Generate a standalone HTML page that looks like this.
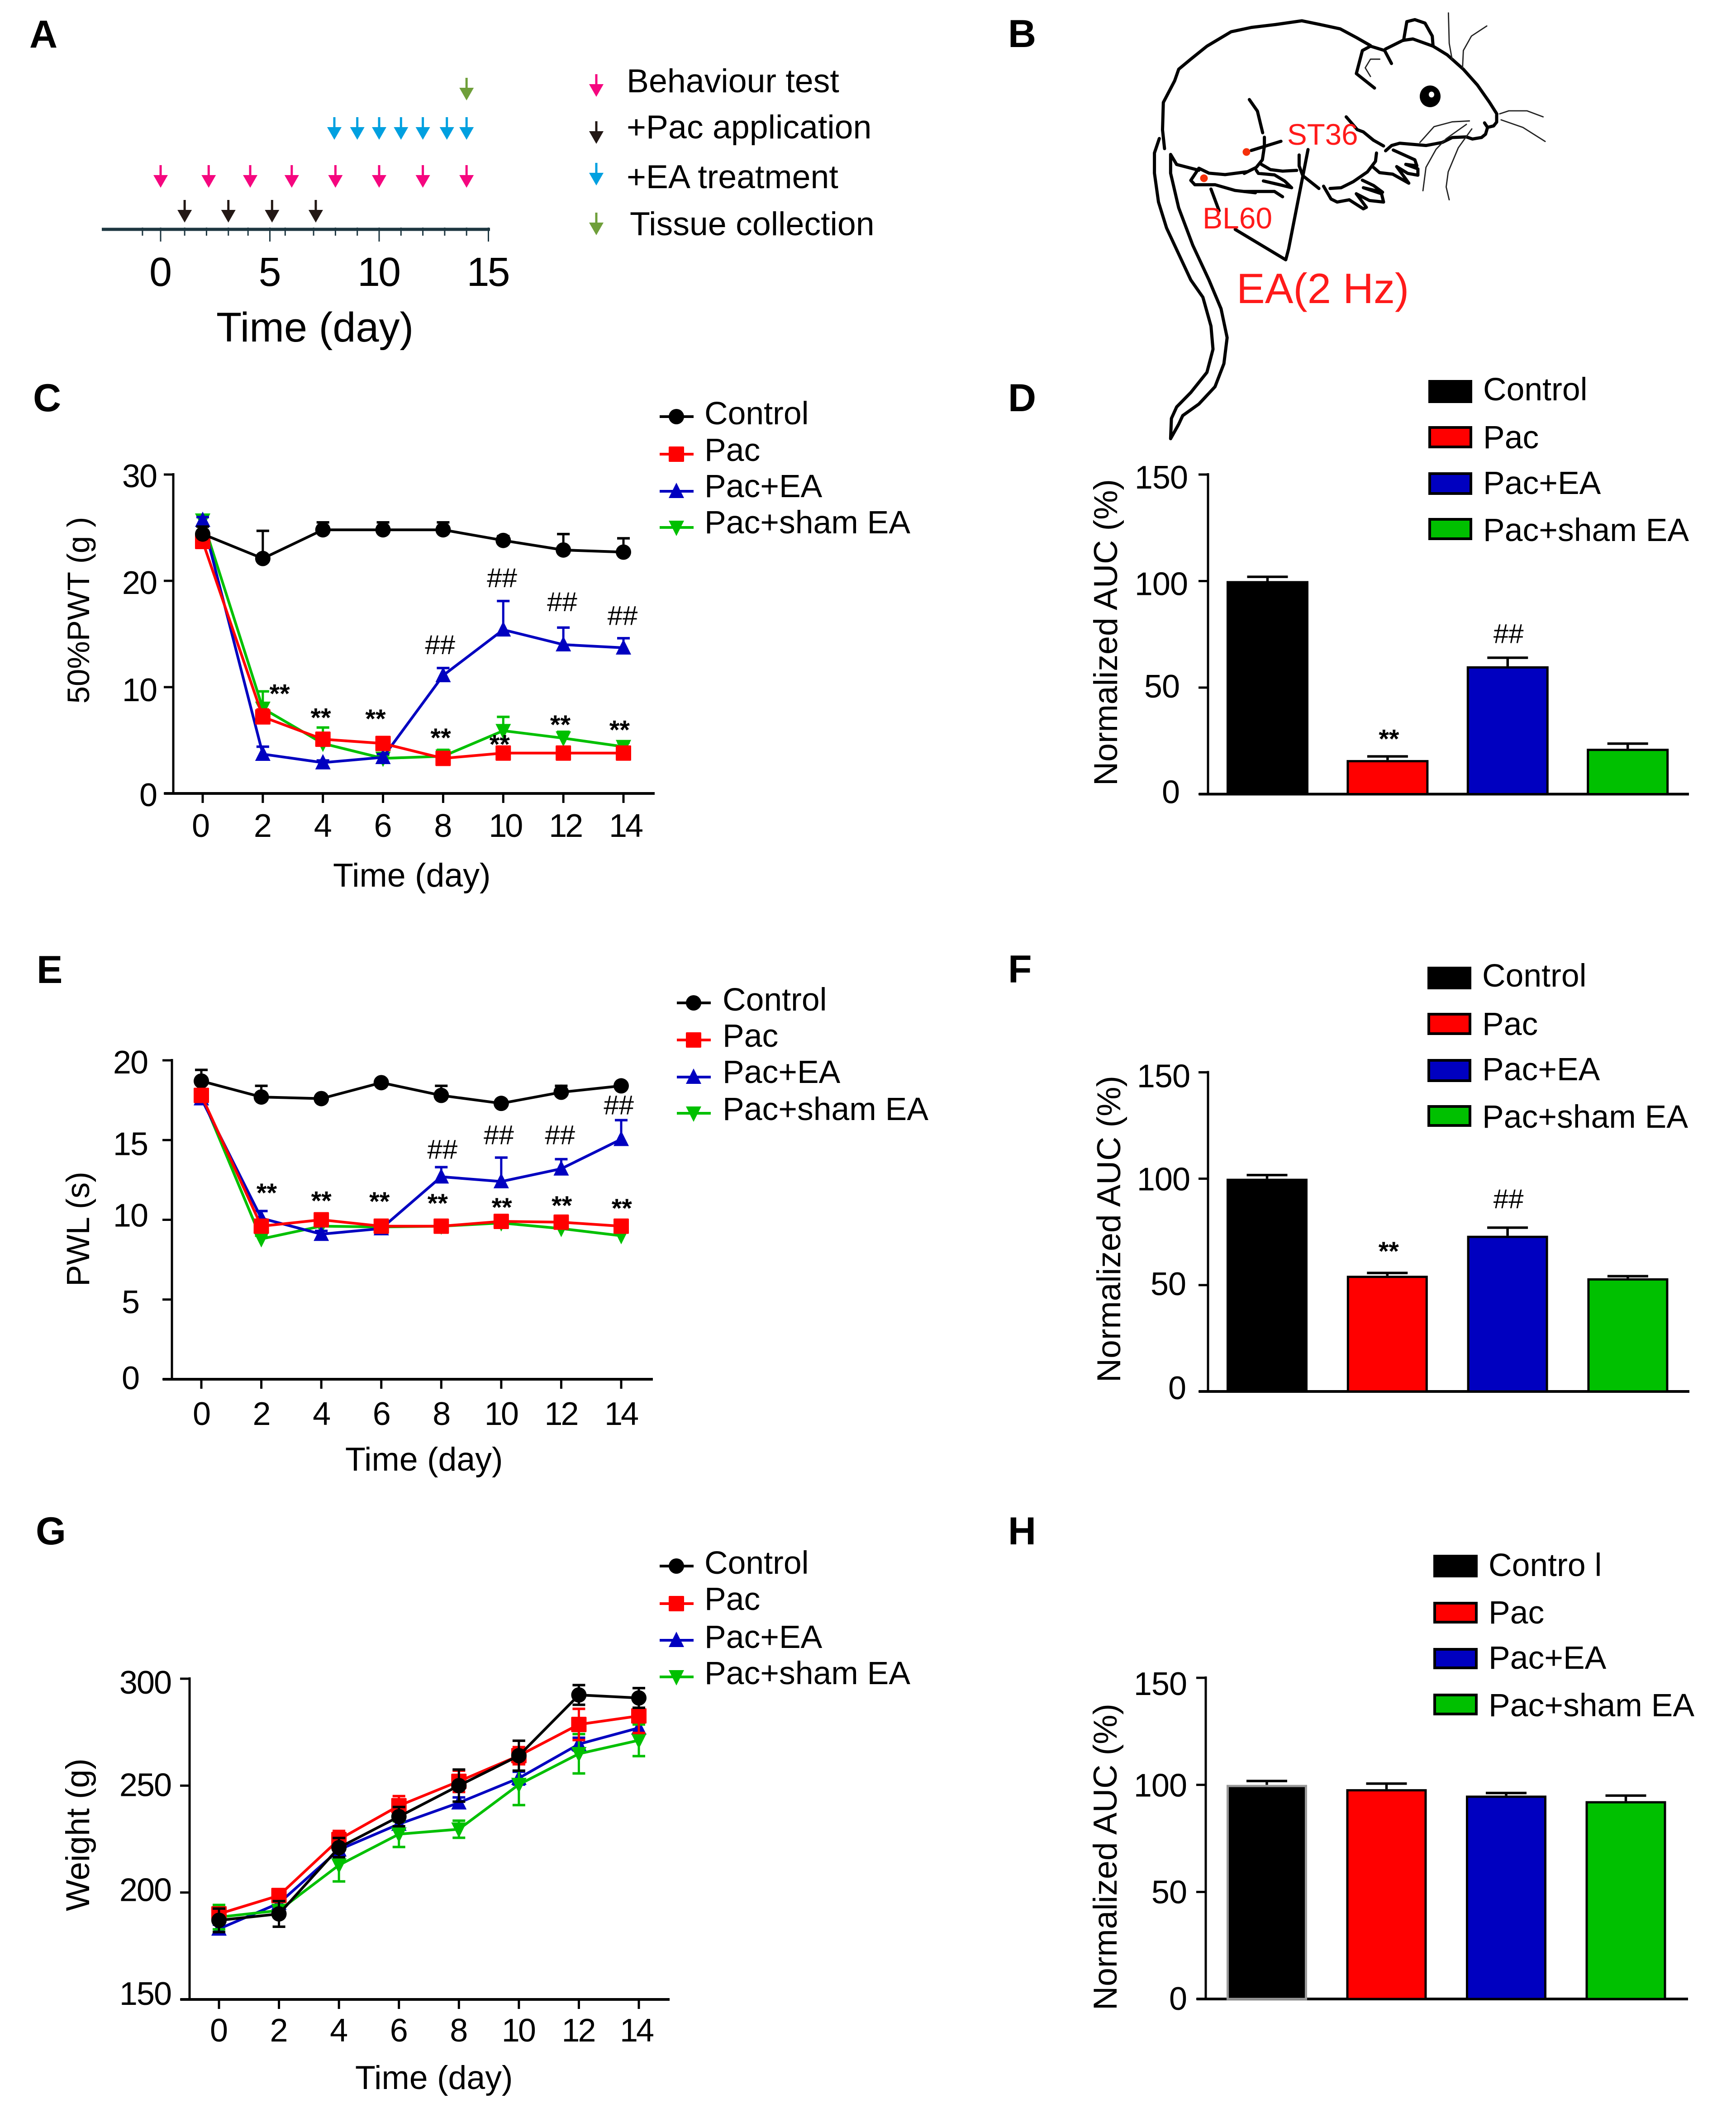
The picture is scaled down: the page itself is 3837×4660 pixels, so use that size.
<!DOCTYPE html>
<html lang="en">
<head>
<meta charset="utf-8">
<title>Behavioural results figure</title>
<style>
html,body{margin:0;padding:0;background:#fff;}
svg{display:block;}
text{font-family:"Liberation Sans",Arial,sans-serif;fill:#000;}
.panel{font-weight:bold;font-size:86px;}
.leg{font-size:71.5px;}
.title{font-size:73.5px;}
.ytitle{font-size:73.5px;}
.rat path{fill:none;stroke:#000;stroke-width:7;stroke-linecap:round;stroke-linejoin:round;vector-effect:non-scaling-stroke;}
.rat path.thin{stroke-width:2.8;stroke:#222;}
.red{fill:#ff1a1a;}
</style>
</head>
<body>
<svg id="fig" xmlns="http://www.w3.org/2000/svg" width="3837" height="4660" viewBox="0 0 3837 4660">
<rect width="3837" height="4660" fill="#fff"/>

<!-- panel letters -->
<text class="panel" x="65" y="105">A</text>
<text class="panel" x="2228" y="104">B</text>
<text class="panel" x="73" y="909">C</text>
<text class="panel" x="2228" y="909">D</text>
<text class="panel" x="81" y="2173">E</text>
<text class="panel" x="2228" y="2172">F</text>
<text class="panel" x="79" y="3414">G</text>
<text class="panel" x="2228" y="3414">H</text>

<!-- panel A static text -->
<g id="panelA">
<text x="1385" y="204" font-size="73.5">Behaviour test</text>
<text x="1385" y="306" font-size="73.5">+Pac application</text>
<text x="1385" y="416" font-size="73.5">+EA treatment</text>
<text x="1392" y="520" font-size="73.5">Tissue collection</text>
<text x="478" y="755" font-size="92">Time (day)</text>
</g>

<!-- panel B rat drawing, upper body and tail -->
<g class="rat" transform="translate(2150,0) scale(0.8925,0.638)">
<path d="M475,515 L470,450 472,355 500,280 510,240 540,205 580,160 640,110 690,95 750,85 815,72 860,85 910,100 950,130 985,158"/>
<path d="M1037,220 L1020,175 985,160 965,175 950,255 995,305"/>
<path class="thin" d="M1008,205 L985,205 972,235 985,265"/>
<path d="M1022,170 L1065,140 1090,135 1140,160 1175,190 1215,240 1250,295 1280,355 1298,395"/>
<path d="M1067,140 L1075,75 1095,68 1120,80 1138,125 1140,160"/>
<path d="M685,345 L705,385 718,460"/>
<path d="M680,595 L625,605 585,600 560,583"/>
<path d="M560,583 L540,625 550,640 600,640 650,660 700,668"/>
<path d="M462,480 L450,530 450,600 460,700 480,790 510,880 540,970 570,1030 590,1130 595,1210 580,1290 540,1360 505,1410 492,1450 490,1520 510,1470 520,1440 560,1400 600,1340 622,1260 630,1170 615,1070 585,970 545,850 510,720 490,600 490,535 505,570 560,590"/>
<path d="M590,655 L610,730 M775,900 L650,795"/>
<path class="thin" d="M1178,45 L1180,150 1187,205"/>
<path class="thin" d="M1273,90 L1235,125 1215,175 1213,235"/>
</g>
<!-- panel B rat drawing, front legs and snout -->
<g class="rat" transform="translate(2750,150) scale(0.4464,0.3333)">
<path d="M505,325 L560,410 590,425 640,480 690,518"/>
<path d="M1250,310 L1250,360 1235,385 1205,395 1190,365 M1205,395 L1195,440 1175,462 1130,472 1100,458 1030,462 980,495 900,515 770,500 730,515 700,550"/>
<path d="M738,545 L845,610 855,650 800,640 860,670 860,712 810,700 755,655 815,765 735,705 670,695 640,660"/>
<path d="M655,565 L650,620 610,690 540,755 480,795 425,800"/>
<path d="M393,785 L430,870 460,890 520,875 590,935 605,925 555,835 620,880 690,890 680,835 590,795 685,825 640,780 585,745"/>
<path d="M85,640 L130,675 190,685 260,680 M272,578 L272,650 290,715 370,800"/>
<path d="M60,680 L70,700 150,710 200,750 235,795 175,775 95,750 M0,820 L150,820 190,855"/>
<path d="M100,460 L100,520 90,610 60,660 0,700"/>
<path d="M316,542 L290,720 220,1200 206,1272"/>
<path d="M35,548 L182,487"/>
<path class="thin" d="M1265,305 L1310,285 1400,285 1480,325"/>
<path class="thin" d="M1272,345 L1380,395 1490,488"/>
<path class="thin" d="M1115,352 L1030,358 940,390 870,495"/>
<path class="thin" d="M1100,375 L1000,470 950,540 900,660 885,815"/>
<path class="thin" d="M1127,405 L1060,530 1010,690 1000,790 1015,875"/>
</g>
<ellipse cx="3161" cy="213" rx="23" ry="24" fill="#000"/>
<ellipse cx="3164" cy="209" rx="6" ry="6.5" fill="#fff"/>
<circle cx="2755" cy="336" r="8.5" fill="#f5300a"/>
<circle cx="2661" cy="394" r="8.5" fill="#f5300a"/>
<text class="red" x="2845" y="320" font-size="65.5">ST36</text>
<text class="red" x="2658" y="505" font-size="66">BL60</text>
<text class="red" x="2733" y="670" font-size="94">EA(2 Hz)</text>

<!-- panel C text -->
<text class="leg" x="1557" y="938">Control</text>
<text class="leg" x="1557" y="1019">Pac</text>
<text class="leg" x="1557" y="1099">Pac+EA</text>
<text class="leg" x="1557" y="1179">Pac+sham EA</text>
<text class="title" x="736" y="1960">Time (day)</text>
<text class="title" style="font-size:69px" text-anchor="middle" transform="translate(197,1349) rotate(-90)">50%PWT (g )</text>

<!-- panel D text -->
<text class="leg" x="3278" y="885">Control</text>
<text class="leg" x="3278" y="991">Pac</text>
<text class="leg" x="3278" y="1092">Pac+EA</text>
<text class="leg" x="3278" y="1196">Pac+sham EA</text>
<text class="ytitle" text-anchor="middle" transform="translate(2469,1398) rotate(-90)">Normalized AUC (%)</text>

<!-- panel E text -->
<text class="leg" x="1597" y="2234">Control</text>
<text class="leg" x="1597" y="2314">Pac</text>
<text class="leg" x="1597" y="2394">Pac+EA</text>
<text class="leg" x="1597" y="2476">Pac+sham EA</text>
<text class="title" x="763" y="3251">Time (day)</text>
<text class="title" style="font-size:71px" text-anchor="middle" transform="translate(197,2717) rotate(-90)">PWL (s)</text>

<!-- panel F text -->
<text class="leg" x="3276" y="2181">Control</text>
<text class="leg" x="3276" y="2288">Pac</text>
<text class="leg" x="3276" y="2388">Pac+EA</text>
<text class="leg" x="3276" y="2493">Pac+sham EA</text>
<text class="ytitle" text-anchor="middle" transform="translate(2476,2717) rotate(-90)">Normalized AUC (%)</text>

<!-- panel G text -->
<text class="leg" x="1557" y="3479">Control</text>
<text class="leg" x="1557" y="3559">Pac</text>
<text class="leg" x="1557" y="3643">Pac+EA</text>
<text class="leg" x="1557" y="3723">Pac+sham EA</text>
<text class="title" x="785" y="4618">Time (day)</text>
<text class="title" text-anchor="middle" transform="translate(197,4056) rotate(-90)">Weight (g)</text>

<!-- panel H text -->
<text class="leg" x="3290" y="3484">Contro l</text>
<text class="leg" x="3290" y="3589">Pac</text>
<text class="leg" x="3290" y="3689">Pac+EA</text>
<text class="leg" x="3290" y="3794">Pac+sham EA</text>
<text class="ytitle" text-anchor="middle" transform="translate(2468,4105) rotate(-90)">Normalized AUC (%)</text>
</svg>

<script>
// ---------- shared categories ----------
const days = [0, 2, 4, 6, 8, 10, 12, 14];
const dayLabels = ['0', '2', '4', '6', '8', '10', '12', '14'];
const groups = ['control', 'pac', 'pac-ea', 'pac-sham'];

// ---------- panel A timeline ----------
const timelineTickLabels = [0, 5, 10, 15];
const timelineMinorDays = [-0.83, 1.1, 2.1, 3.1, 4, 5.7, 7, 8, 9, 11, 12, 13, 14];
const behaviourDays = [0, 2.2, 4.1, 6, 8, 10, 12, 14];
const pacDays = [1.1, 3.1, 5.1, 7.1];
const eaDays = [7.95, 9, 10, 11, 12, 13.1, 14];
const tissueDays = [14];

// ---------- panel C ----------
const cTicks = [0, 10, 20, 30];
const cControl = [24.4, 22.1, 24.8, 24.8, 24.8, 23.8, 22.9, 22.7];
const cControlErr = [0.7, 2.6, 0.7, 0.7, 0.7, 0.4, 1.5, 1.3];
const cPac = [23.7, 7.2, 5.1, 4.7, 3.3, 3.8, 3.8, 3.8];
const cPacErr = [0.3, 0.7, 0.5, 0.5, 0.4, 0.3, 0.3, 0.3];
const cEa = [25.7, 3.7, 2.9, 3.4, 11.1, 15.4, 14.0, 13.7];
const cEaErr = [0.3, 0.7, 0.2, 0.3, 0.7, 2.7, 1.6, 0.9];
const cSham = [25.7, 8.0, 4.7, 3.3, 3.5, 5.9, 5.2, 4.4];
const cShamErr = [0.3, 1.6, 1.5, 0.3, 0.6, 1.3, 0.6, 0.4];
const cStarDays = [2.56, 3.93, 5.75, 7.92, 9.88, 11.9, 13.87];
const cStarValues = [9.6, 7.34, 7.24, 5.45, 4.84, 6.69, 6.2];
const cHashDays = [7.9, 9.96, 11.96, 13.97];
const cHashValues = [14.0, 20.3, 18.05, 16.75];

// ---------- panel E ----------
const eTicks = [0, 5, 10, 15, 20];
const eControl = [18.7, 17.7, 17.6, 18.6, 17.8, 17.3, 18.0, 18.4];
const eControlErr = [0.7, 0.7, 0.1, 0.1, 0.6, 0.1, 0.4, 0.1];
const ePac = [17.8, 9.6, 10.0, 9.6, 9.6, 9.9, 9.85, 9.6];
const ePacErr = [0.3, 0.3, 0.3, 0.2, 0.2, 0.3, 0.3, 0.3];
const eEa = [17.6, 10.1, 9.1, 9.45, 12.7, 12.4, 13.2, 15.05];
const eEaErr = [0.2, 0.45, 0.2, 0.2, 0.6, 1.5, 0.6, 1.2];
const eSham = [17.8, 8.8, 9.6, 9.55, 9.6, 9.8, 9.45, 9.0];
const eShamErr = [0.2, 0.2, 0.2, 0.2, 0.3, 0.2, 0.2, 0.2];
const eStarDays = [2.18, 4.0, 5.94, 7.88, 10.02, 12.02, 14.02];
const eStarValues = [11.83, 11.33, 11.29, 11.18, 10.92, 11.03, 10.86];
const eHashDays = [8.04, 9.92, 11.96, 13.92];
const eHashValues = [14.43, 15.34, 15.34, 17.2];

// ---------- panel G ----------
const gTicks = [150, 200, 250, 300];
const gControl = [187, 190, 221, 235.5, 250, 264, 292.4, 291];
const gControlErr = [5.5, 6, 4.5, 4.5, 7.5, 7, 4.6, 4.6];
const gPac = [190, 198.6, 224.8, 240.6, 252, 264, 278.6, 282.6];
const gPacErr = [3, 1, 4, 4.5, 5, 4, 7.3, 8];
const gEa = [183, 195, 220, 232, 242, 253.5, 269.4, 277];
const gEaErr = [2, 2, 3, 2.5, 2.5, 3, 3, 3];
const gSham = [188.5, 191.6, 212.8, 227.3, 229.6, 250.5, 264.9, 271.2];
const gShamErr = [5.7, 2, 7.6, 6, 4, 9.6, 9.2, 7.4];

// ---------- bar panels ----------
const barTicks = [0, 50, 100, 150];
const dValues = [100, 16, 60, 21.3];
const dErrors = [2, 1.7, 4, 2.4];
const dStarValue = [27];
const dHashValue = [75.4];
const fValues = [100, 54.4, 73.2, 53.2];
const fErrors = [1.7, 1.3, 3.8, 1];
const fStarValue = [67];
const fHashValue = [90.6];
const hValues = [100, 98, 95, 92.4];
const hErrors = [1.8, 2.6, 1.2, 2.6];

const svg = document.getElementById('fig');
const NS = 'http://www.w3.org/2000/svg';
function mk(parent, tag, name, attrs, txt) {
  const el = document.createElementNS(NS, tag);
  
  
  for (const k in attrs) el.setAttribute(k, attrs[k]);
  if (txt !== undefined) el.textContent = txt;
  parent.appendChild(el);
  return el;
}

// ---------- panel A ----------
(function () {
  const g = document.getElementById('panelA');
  const tx = d => 355 + d * 48.3;
  const col = '#1d3640';
  mk(g, 'line', 'timeline-axis', {x1: 225, x2: 1083, y1: 507, y2: 507, stroke: col, 'stroke-width': 7});
  timelineMinorDays.forEach(d => {
    mk(g, 'line', 'timeline-minor-tick', {x1: tx(d), x2: tx(d), y1: 503, y2: 521, stroke: col, 'stroke-width': 3});
  });
  timelineTickLabels.forEach(d => {
    mk(g, 'line', 'timeline-major-tick', {x1: tx(d), x2: tx(d), y1: 503, y2: 534, stroke: col, 'stroke-width': 3});
    mk(g, 'text', 'timeline-tick-label', {x: tx(d) - 2, y: 632, 'font-size': 90, 'letter-spacing': -4, 'text-anchor': 'middle'}, String(d));
  });
  function arrow(x, top, color, name) {
    mk(g, 'line', name + '-shaft', {x1: x, x2: x, y1: top, y2: top + 28, stroke: color, 'stroke-width': 5});
    mk(g, 'polygon', name + '-head', {points: (x - 16) + ',' + (top + 22) + ' ' + (x + 16) + ',' + (top + 22) + ' ' + x + ',' + (top + 50), fill: color});
  }
  behaviourDays.forEach(d => arrow(tx(d), 365, '#f5067f', 'behaviour-test-arrow'));
  pacDays.forEach(d => arrow(tx(d), 442, '#231815', 'pac-application-arrow'));
  eaDays.forEach(d => arrow(tx(d), 259, '#00a0e0', 'ea-treatment-arrow'));
  tissueDays.forEach(d => arrow(tx(d), 172, '#6f9f3a', 'tissue-collection-arrow'));
  arrow(1318, 164, '#f5067f', 'legend-behaviour-arrow');
  arrow(1318, 268, '#231815', 'legend-pac-arrow');
  arrow(1318, 360, '#00a0e0', 'legend-ea-arrow');
  arrow(1318, 470, '#6f9f3a', 'legend-tissue-arrow');
})();

const COLORS = {control: '#000000', pac: '#ff0000', 'pac-ea': '#0000c0', 'pac-sham': '#00c000'};

function marker(g, group, x, y, name) {
  const c = COLORS[group], r = 17;
  if (group === 'control') {
    mk(g, 'circle', name, {cx: x, cy: y, r: r, fill: c});
  } else if (group === 'pac') {
    mk(g, 'rect', name, {x: x - r, y: y - r, width: 2 * r, height: 2 * r, rx: 2, fill: c});
  } else if (group === 'pac-ea') {
    mk(g, 'polygon', name, {points: x + ',' + (y - r - 2) + ' ' + (x - r) + ',' + (y + r - 2) + ' ' + (x + r) + ',' + (y + r - 2), fill: c});
  } else {
    mk(g, 'polygon', name, {points: x + ',' + (y + r + 2) + ' ' + (x - r) + ',' + (y - r + 2) + ' ' + (x + r) + ',' + (y - r + 2), fill: c});
  }
}

function lineChart(cfg) {
  const g = mk(svg, 'g', cfg.name, {});
  const xOf = d => cfg.x0 + (d / 14) * (cfg.x14 - cfg.x0);
  const yOf = v => cfg.yMin + (v - cfg.vMin) / (cfg.vMax - cfg.vMin) * (cfg.yMax - cfg.yMin);
  // axes
  mk(g, 'line', 'y-axis', {x1: cfg.axisX, x2: cfg.axisX, y1: cfg.yMax - 3, y2: cfg.yMin + 3, stroke: '#000', 'stroke-width': 5});
  mk(g, 'line', 'x-axis', {x1: cfg.axisX - 20, x2: cfg.axisEnd, y1: cfg.yMin, y2: cfg.yMin, stroke: '#000', 'stroke-width': 6});
  cfg.ticks.forEach(t => {
    mk(g, 'line', 'y-tick', {x1: cfg.axisX - 21, x2: cfg.axisX, y1: yOf(t), y2: yOf(t), stroke: '#000', 'stroke-width': 5});
    mk(g, 'text', 'y-tick-label', {x: cfg.labelRight(t), y: yOf(t) + 26 + cfg.labelShift[t], 'font-size': 72, 'letter-spacing': -2, 'text-anchor': 'end'}, String(t));
  });
  days.forEach((d, i) => {
    mk(g, 'line', 'x-tick', {x1: xOf(d), x2: xOf(d), y1: cfg.yMin, y2: cfg.yMin + 21, stroke: '#000', 'stroke-width': 5});
    mk(g, 'text', 'x-tick-label', {x: xOf(d) + cfg.xLabelShift(d), y: cfg.xLabelY, 'font-size': 72, 'letter-spacing': -4, 'text-anchor': 'middle'}, dayLabels[i]);
  });
  cfg.series.forEach(s => {
    const c = COLORS[s.group];
    const sg = mk(g, 'g', 'series-' + s.group, {});
    s.values.forEach((v, i) => {
      const x = xOf(days[i]);
      const top = yOf(v + s.errs[i]);
      const bot = cfg.both ? yOf(v - s.errs[i]) : yOf(v);
      mk(sg, 'line', 'error-bar', {x1: x, x2: x, y1: top, y2: bot, stroke: c, 'stroke-width': 5});
      mk(sg, 'line', 'error-cap', {x1: x - 14, x2: x + 14, y1: top, y2: top, stroke: c, 'stroke-width': 5.5});
      if (cfg.both) {
        mk(sg, 'line', 'error-cap', {x1: x - 14, x2: x + 14, y1: bot, y2: bot, stroke: c, 'stroke-width': 5.5});
      }
    });
    const pts = s.values.map((v, i) => xOf(days[i]) + ',' + yOf(v)).join(' ');
    mk(sg, 'polyline', 'line-' + s.group, {points: pts, fill: 'none', stroke: c, 'stroke-width': 6, 'stroke-linejoin': 'round'});
    s.values.forEach((v, i) => {
      marker(sg, s.group, xOf(days[i]), yOf(v), 'point-' + s.group + '-day-' + days[i]);
    });
  });
  // significance marks
  (cfg.starDays || []).forEach((d, i) => {
    mk(g, 'text', 'significance-stars', {x: xOf(d), y: yOf(cfg.starValues[i]) + 25, 'font-size': 58, 'font-weight': 'bold', 'text-anchor': 'middle'}, '**');
  });
  (cfg.hashDays || []).forEach((d, i) => {
    mk(g, 'text', 'significance-hashes', {x: xOf(d), y: yOf(cfg.hashValues[i]) + 21, 'font-size': 60, 'text-anchor': 'middle'}, '##');
  });
  // legend glyphs
  groups.forEach((grp, i) => {
    mk(g, 'line', 'legend-line-' + grp, {x1: cfg.legX, x2: cfg.legX + 75, y1: cfg.legY[i], y2: cfg.legY[i], stroke: COLORS[grp], 'stroke-width': 6});
    marker(g, grp, cfg.legX + 37, cfg.legY[i], 'legend-marker-' + grp);
  });
}

function barChart(cfg) {
  const g = mk(svg, 'g', cfg.name, {});
  const yOf = v => cfg.y0 + v / 150 * (cfg.y150 - cfg.y0);
  const xOf = i => cfg.x0 + i * cfg.step;
  mk(g, 'line', 'y-axis', {x1: cfg.axisX, x2: cfg.axisX, y1: cfg.y150 - 3, y2: cfg.y0 + 3, stroke: '#000', 'stroke-width': 5});
  mk(g, 'line', 'x-axis', {x1: cfg.axisX - 20, x2: cfg.axisEnd, y1: cfg.y0, y2: cfg.y0, stroke: '#000', 'stroke-width': 6});
  barTicks.forEach(t => {
    mk(g, 'line', 'y-tick', {x1: cfg.axisX - 21, x2: cfg.axisX, y1: yOf(t), y2: yOf(t), stroke: '#000', 'stroke-width': 5});
    mk(g, 'text', 'y-tick-label', {x: cfg.labelRight(t), y: yOf(t) + 26 + cfg.labelShift[t], 'font-size': 72, 'letter-spacing': -1, 'text-anchor': 'end'}, String(t));
  });
  cfg.values.forEach((v, i) => {
    const c = xOf(i) + cfg.w / 2;
    const e = yOf(v + cfg.errors[i]);
    mk(g, 'line', 'error-bar-' + groups[i], {x1: c, x2: c, y1: e, y2: yOf(v), stroke: '#000', 'stroke-width': 5.5});
    mk(g, 'line', 'error-cap-' + groups[i], {x1: c - 45, x2: c + 45, y1: e, y2: e, stroke: '#000', 'stroke-width': 5.5});
    mk(g, 'rect', 'bar-' + groups[i], {x: xOf(i) + 2.5, y: yOf(v) + 2.5, width: cfg.w - 5, height: yOf(0) - yOf(v) - 2.5, fill: COLORS[groups[i]], stroke: (i === 0 && cfg.grayEdge) ? '#999' : '#000', 'stroke-width': 5});
  });
  (cfg.starValue || []).forEach(v => {
    mk(g, 'text', 'significance-stars', {x: xOf(1) + cfg.w / 2 + 3, y: yOf(v) + 25, 'font-size': 58, 'font-weight': 'bold', 'text-anchor': 'middle'}, '**');
  });
  (cfg.hashValue || []).forEach(v => {
    mk(g, 'text', 'significance-hashes', {x: xOf(2) + cfg.w / 2 + 2, y: yOf(v) + 21, 'font-size': 60, 'text-anchor': 'middle'}, '##');
  });
  groups.forEach((grp, i) => {
    const r = cfg.leg[i];
    mk(g, 'rect', 'legend-swatch-' + grp, {x: cfg.legX + 3, y: r[0] + 3, width: cfg.legW - 6, height: r[1] - r[0] - 6, fill: COLORS[grp], stroke: '#000', 'stroke-width': 6});
  });
}

lineChart({
  name: 'chart-c-pwt', x0: 448, x14: 1378, yMin: 1754, yMax: 1049, vMin: 0, vMax: 30,
  axisX: 383, axisEnd: 1447, ticks: cTicks, labelRight: () => 346, xLabelY: 1850,
  labelShift: {0: 2, 10: 5, 20: 3, 30: 2},
  xLabelShift: d => d === 0 ? -6 : (d >= 10 ? 4 : -2),
  series: [
    {group: 'pac-sham', values: cSham, errs: cShamErr},
    {group: 'pac-ea', values: cEa, errs: cEaErr},
    {group: 'pac', values: cPac, errs: cPacErr},
    {group: 'control', values: cControl, errs: cControlErr}
  ],
  starDays: cStarDays, starValues: cStarValues, hashDays: cHashDays, hashValues: cHashValues,
  legX: 1458, legY: [921, 1004, 1086, 1166]
});
lineChart({
  name: 'chart-e-pwl', x0: 445, x14: 1373, yMin: 3049, yMax: 2344, vMin: 0, vMax: 20,
  axisX: 380, axisEnd: 1443, ticks: eTicks, labelRight: t => t >= 10 ? 326 : 307, xLabelY: 3150,
  labelShift: {0: -4, 5: 4, 10: -11, 15: 7, 20: 3},
  xLabelShift: () => -1,
  series: [
    {group: 'pac-sham', values: eSham, errs: eShamErr},
    {group: 'pac-ea', values: eEa, errs: eEaErr},
    {group: 'control', values: eControl, errs: eControlErr},
    {group: 'pac', values: ePac, errs: ePacErr}
  ],
  starDays: eStarDays, starValues: eStarValues, hashDays: eHashDays, hashValues: eHashValues,
  legX: 1496, legY: [2217, 2299, 2381, 2461]
});
lineChart({
  name: 'chart-g-weight', x0: 484, x14: 1412, yMin: 4420, yMax: 3711, vMin: 150, vMax: 300,
  axisX: 419, axisEnd: 1480, ticks: gTicks, labelRight: () => 378, xLabelY: 4513, both: true,
  labelShift: {150: -14, 200: -7, 250: -3, 300: 7},
  xLabelShift: d => d >= 14 ? -6 : -2,
  series: [
    {group: 'pac-ea', values: gEa, errs: gEaErr},
    {group: 'pac-sham', values: gSham, errs: gShamErr},
    {group: 'pac', values: gPac, errs: gPacErr},
    {group: 'control', values: gControl, errs: gControlErr}
  ],
  legX: 1458, legY: [3462, 3545, 3626, 3707]
});

barChart({
  name: 'chart-d-auc', x0: 2711, step: 265.4, w: 181, y0: 1755.5, y150: 1049, axisX: 2670, axisEnd: 3733,
  values: dValues, errors: dErrors, starValue: dStarValue, hashValue: dHashValue,
  labelRight: t => t >= 100 ? 2625 : 2607,
  labelShift: {0: -6, 50: -4, 100: 5, 150: 5},
  legX: 3157, legW: 97, leg: [[840, 891], [942, 991], [1044, 1094], [1145, 1194]]
});
barChart({
  name: 'chart-f-auc', x0: 2711, step: 265.8, w: 179, y0: 3076, y150: 2370.5, axisX: 2670, axisEnd: 3734,
  values: fValues, errors: fErrors, starValue: fStarValue, hashValue: fHashValue,
  labelRight: t => t >= 100 ? 2630 : 2621,
  labelShift: {0: -9, 50: -4, 100: 0, 150: 7},
  legX: 3155, legW: 97, leg: [[2137, 2187], [2239, 2288], [2341, 2392], [2443, 2491]]
});
barChart({
  name: 'chart-h-auc', x0: 2711, step: 264.5, w: 178, y0: 4419, y150: 3709, axisX: 2665, axisEnd: 3731,
  values: hValues, errors: hErrors, grayEdge: true,
  labelRight: () => 2623,
  labelShift: {0: -2, 50: -1, 100: 0, 150: 12},
  legX: 3168, legW: 98, leg: [[3437, 3487], [3541, 3589], [3643, 3690], [3744, 3792]]
});
</script>
</body>
</html>
